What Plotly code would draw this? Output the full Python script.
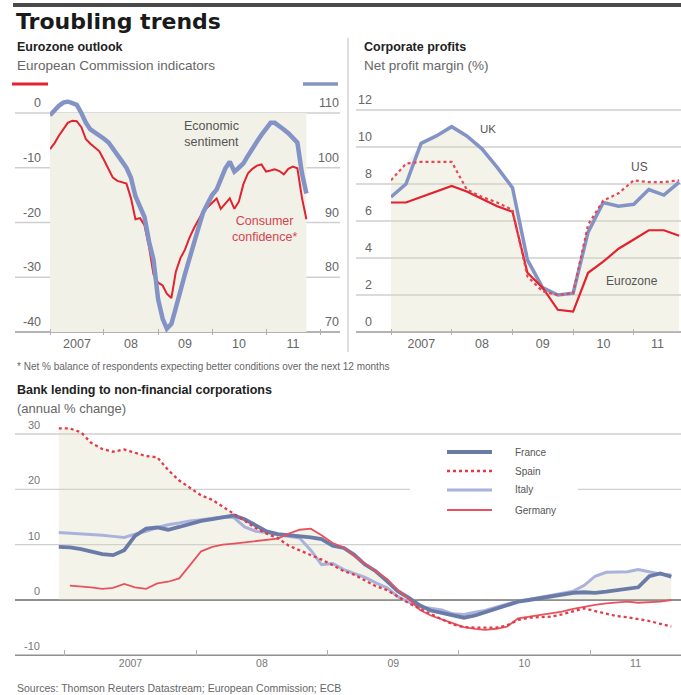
import pandas as pd
import plotly.graph_objects as go

W, H = 681, 695

# ---------------- DATA ----------------
sent_dates = pd.date_range("2007-01-01", periods=58, freq="MS")
economic_sentiment = [
    109.6, 110.5, 111.3, 111.9, 112.1, 111.8, 111.5, 110.0, 108.2, 107.0, 106.5, 105.8,
    105.3, 104.6, 103.6, 102.4, 101.2, 100.0, 98.2, 94.8, 92.9, 91.0, 86.5, 83.2,
    76.0, 72.4, 70.6, 71.5, 74.4, 77.8, 80.5, 83.4, 86.0, 89.0, 91.8, 93.6,
    95.0, 96.0, 97.9, 99.9, 101.1, 99.3, 100.0, 100.8, 102.2, 103.6, 104.8, 106.0,
    107.0, 108.2, 108.2, 107.7, 107.0, 106.3, 105.5, 104.6, 99.0, 95.3]
consumer_confidence = [
    -6.6, -5.5, -4.2, -3.0, -1.8, -1.4, -1.5, -2.6, -4.8, -5.6, -6.3, -7.0,
    -8.6, -10.3, -11.8, -12.4, -12.6, -12.9, -15.5, -19.4, -19.2, -20.5, -24.5, -29.5,
    -31.0, -31.5, -33.0, -33.8, -29.0, -26.5, -25.0, -22.8, -21.0, -19.5, -18.0, -17.2,
    -16.3, -15.6, -17.5, -16.5, -15.6, -17.5, -16.2, -13.0, -11.0, -10.2, -9.6, -9.4,
    -10.7, -10.5, -10.3, -10.6, -11.2, -10.2, -9.8, -10.1, -15.5, -19.4]

profit_dates = pd.date_range("2007-01-01", periods=20, freq="QS")
uk_margin = [7.3, 8.0, 10.2, 10.6, 11.1, 10.6, 9.9, 8.9, 7.8, 3.9,
             2.4, 2.0, 2.1, 5.4, 7.0, 6.8, 6.9, 7.7, 7.4, 8.1]
us_margin = [8.2, 9.1, 9.2, 9.2, 9.2, 7.7, 7.3, 7.0, 6.6, 3.0,
             2.2, 2.0, 2.1, 5.8, 7.1, 7.5, 8.2, 8.1, 8.1, 8.2]
ez_margin = [7.0, 7.0, 7.3, 7.6, 7.9, 7.6, 7.2, 6.8, 6.5, 3.2,
             2.4, 1.2, 1.1, 3.2, 3.8, 4.5, 5.0, 5.5, 5.5, 5.2]

lend_dates = pd.date_range("2006-12-01", periods=57, freq="MS") + pd.Timedelta(days=14)
france = [9.6, 9.5, 9.2, 8.7, 8.3, 8.1, 9.0, 11.6, 12.9, 13.1, 12.7, 13.2, 13.8,
          14.3, 14.6, 15.0, 15.3, 14.6, 13.4, 12.4, 11.9, 11.7, 11.6, 11.3, 11.0,
          9.8, 9.4, 8.2, 6.4, 5.2, 3.4, 1.6, 0.4, -1.0, -1.9, -2.3, -2.7,
          -3.2, -2.8, -2.2, -1.5, -0.8, -0.3, 0.0, 0.3, 0.7, 1.0, 1.3, 1.4,
          1.3, 1.5, 1.8, 2.0, 2.3, 4.3, 4.8, 4.2]
spain = [31.0, 31.0, 30.3, 28.4, 27.3, 26.8, 27.2, 26.6, 26.0, 25.8, 23.5, 21.6, 20.3,
         18.9, 18.1, 16.9, 15.5, 14.4, 13.0, 12.0, 11.2, 9.8, 9.0, 8.2, 7.3,
         6.3, 5.2, 4.6, 3.6, 2.5, 1.8, 0.6, -0.6, -1.6, -2.6, -3.5, -4.4,
         -4.9, -5.0, -5.0, -5.0, -4.6, -3.6, -3.2, -3.1, -3.0, -2.6, -2.1, -1.5,
         -2.0, -2.5, -2.9, -3.1, -3.4, -3.8, -4.3, -4.8]
italy = [12.2, 12.1, 12.0, 11.9, 11.7, 11.5, 11.3, 11.9, 12.4, 13.1, 13.6, 13.9, 14.3,
         14.5, 14.8, 15.0, 14.9, 13.2, 12.4, 12.2, 11.8, 11.5, 11.2, 9.0, 6.4,
         6.6, 5.5, 4.8, 4.1, 3.1, 2.2, 0.6, -0.4, -1.2, -1.5, -1.8, -2.5,
         -2.6, -2.2, -1.9, -1.3, -0.8, -0.2, 0.1, 0.5, 0.9, 1.2, 1.6, 2.6,
         4.3, 5.0, 5.0, 5.1, 5.5, 5.1, 4.7, 4.5]
germany = [None, 2.6, 2.5, 2.3, 2.0, 2.2, 2.9, 2.3, 2.0, 3.0, 3.3, 3.9, 6.3,
           8.8, 9.6, 10.0, 10.2, 10.4, 10.7, 10.9, 11.1, 12.0, 12.7, 12.9, 11.7,
           10.3, 9.5, 8.0, 6.6, 5.2, 3.8, 1.8, 0.2, -1.8, -2.8, -3.5, -4.2,
           -4.9, -5.2, -5.4, -5.2, -4.8, -3.3, -3.0, -2.8, -2.5, -2.1, -1.6, -1.2,
           -0.9, -0.6, -0.4, -0.3, -0.5, -0.4, -0.3, 0.0]

cc_ticks = [0, -10, -20, -30, -40]
esi_ticks = [110, 100, 90, 80, 70]
profit_ticks = [12, 10, 8, 6, 4, 2, 0]
lend_ticks = [30, 20, 10, 0, -10]
years = [2007, 2008, 2009, 2010, 2011]
year_labels = ["2007", "08", "09", "10", "11"]

lend_names = ["France", "Spain", "Italy", "Germany"]
lend_series = {"France": france, "Spain": spain, "Italy": italy, "Germany": germany}
lend_style = {
    "France": dict(color="#6a7ba8", width=3.8, dash="solid"),
    "Spain": dict(color="#e23a48", width=2.3, dash="dot"),
    "Italy": dict(color="#aab2dc", width=3, dash="solid"),
    "Germany": dict(color="#e8525e", width=1.8, dash="solid"),
}

RED = "#e2222e"
BLUE = "#8393c6"
SHADE = "#f1f1e8"
SHADE_FILL = "rgba(214,214,182,0.3)"
GRID = "#cfcfcf"
AXIS = "#9a9a9a"
FONT = "Liberation Sans"


# ---------------- helpers ----------------
def px(x):
    return x / W


def py(y):
    return 1 - y / H


def y_domain(v1, p1, v2, p2, lo, hi):
    s = (p2 - p1) / (v1 - v2)
    top_px = p1 - (hi - v1) * s
    bot_px = p1 + (v1 - lo) * s
    return [1 - bot_px / H, 1 - top_px / H]


def year_ticks(r0, r1):
    r0, r1 = pd.Timestamp(r0), pd.Timestamp(r1)
    vals = []
    for y in years:
        a = max(pd.Timestamp(f"{y}-01-01"), r0)
        b = min(pd.Timestamp(f"{y + 1}-01-01"), r1)
        vals.append(a + (b - a) / 2)
    return vals


L_RANGE = ["2007-01-01", "2012-01-01"]
R_RANGE = ["2007-01-01", "2011-10-12"]
B_RANGE = ["2006-12-10", "2011-09-11"]
L_Y = [-40.5, 2.5]
R_Y = [-0.15, 12.4]
B_Y = [-10.1, 31.8]

fig = go.Figure()

# ---- shaded areas ----
profit_env = [max(0, a, b, c) for a, b, c in zip(uk_margin, us_margin, ez_margin)]
fig.add_trace(go.Scatter(x=profit_dates, y=profit_env, mode="lines", line=dict(width=0),
                         fill="tozeroy", fillcolor=SHADE_FILL,
                         xaxis="x2", yaxis="y3", showlegend=False, hoverinfo="skip"))
lend_env = [max([0] + [v for v in vals if v is not None])
            for vals in zip(*[lend_series[n] for n in lend_names])]
fig.add_trace(go.Scatter(x=lend_dates, y=lend_env, mode="lines", line=dict(width=0),
                         fill="tozeroy", fillcolor=SHADE_FILL,
                         xaxis="x3", yaxis="y4", showlegend=False, hoverinfo="skip"))

# ---- left chart ----
fig.add_trace(go.Scatter(x=sent_dates, y=economic_sentiment, mode="lines",
                         line=dict(color=BLUE, width=4.5), xaxis="x", yaxis="y2",
                         name="Economic sentiment", showlegend=False))
fig.add_trace(go.Scatter(x=sent_dates, y=consumer_confidence, mode="lines",
                         line=dict(color=RED, width=2), xaxis="x", yaxis="y",
                         name="Consumer confidence", showlegend=False))

# ---- right chart ----
fig.add_trace(go.Scatter(x=profit_dates, y=uk_margin, mode="lines",
                         line=dict(color=BLUE, width=3.5), xaxis="x2", yaxis="y3",
                         name="UK", showlegend=False))
fig.add_trace(go.Scatter(x=profit_dates, y=ez_margin, mode="lines",
                         line=dict(color=RED, width=2.2), xaxis="x2", yaxis="y3",
                         name="Eurozone", showlegend=False))
fig.add_trace(go.Scatter(x=profit_dates, y=us_margin, mode="lines",
                         line=dict(color="#e84452", width=2.2, dash="dot"), xaxis="x2", yaxis="y3",
                         name="US", showlegend=False))

# ---- bottom chart ----
for n in ["Italy", "France", "Germany", "Spain"]:
    st = lend_style[n]
    fig.add_trace(go.Scatter(x=lend_dates, y=lend_series[n], mode="lines",
                             line=dict(color=st["color"], width=st["width"], dash=st["dash"]),
                             xaxis="x3", yaxis="y4", name=n, showlegend=False,
                             connectgaps=False))

# ---------------- shapes ----------------
shapes = []
shapes.append(dict(type="rect", xref="x", yref="y", x0=sent_dates[0], x1=sent_dates[-1],
                   y0=cc_ticks[-1], y1=cc_ticks[0], fillcolor=SHADE, line=dict(width=0),
                   layer="below"))
for v in cc_ticks:
    shapes.append(dict(type="line", xref="paper", yref="y", x0=px(15), x1=px(340), y0=v, y1=v,
                       line=dict(color=AXIS if v == cc_ticks[-1] else GRID,
                                 width=1.5 if v == cc_ticks[-1] else 1.3), layer="below"))
for v in profit_ticks:
    shapes.append(dict(type="line", xref="paper", yref="y3", x0=px(356), x1=1, y0=v, y1=v,
                       line=dict(color=AXIS if v == 0 else GRID,
                                 width=1.5 if v == 0 else 1.3), layer="below"))
for v in lend_ticks:
    dark = v in (0, lend_ticks[-1])
    shapes.append(dict(type="line", xref="paper", yref="y4", x0=px(15), x1=1, y0=v, y1=v,
                       line=dict(color="#8f8f8f" if dark else GRID, width=1.8 if dark else 1.3),
                       layer="below"))
# white legend box interrupting grid
shapes.append(dict(type="rect", xref="paper", yref="paper", x0=px(410), x1=px(578),
                   y0=py(522), y1=py(442), fillcolor="white", line=dict(width=0), layer="below"))
# top rule
shapes.append(dict(type="line", xref="paper", yref="paper", x0=px(13), x1=1, y0=py(5), y1=py(5),
                   line=dict(color="#4a4a4a", width=4)))
# separator
shapes.append(dict(type="line", xref="paper", yref="paper", x0=px(348), x1=px(348),
                   y0=py(38), y1=py(352), line=dict(color="#bdbdbd", width=1)))
# key lines for left chart
shapes.append(dict(type="line", xref="paper", yref="paper", x0=px(12), x1=px(48),
                   y0=py(84), y1=py(84), line=dict(color=RED, width=3)))
shapes.append(dict(type="line", xref="paper", yref="paper", x0=px(303), x1=px(338),
                   y0=py(84), y1=py(84), line=dict(color=BLUE, width=3.5)))
# bottom legend
leg_rows = [452, 471, 490, 510]
annotations = []
for n, ry in zip(lend_names, leg_rows):
    st = lend_style[n]
    shapes.append(dict(type="line", xref="paper", yref="paper", x0=px(447), x1=px(492),
                       y0=py(ry), y1=py(ry),
                       line=dict(color=st["color"], width=st["width"], dash=st["dash"])))
    annotations.append(dict(x=px(513), y=py(ry), xref="paper", yref="paper", text=n,
                            showarrow=False, xanchor="left", yanchor="middle",
                            font=dict(size=10, color="#555")))


# ---------------- text ----------------
def txt(x, y, s, size, color="#555", bold=False, anchor="left", family=FONT):
    annotations.append(dict(x=px(x), y=py(y), xref="paper", yref="paper",
                            text=f"<b>{s}</b>" if bold else s, showarrow=False,
                            xanchor=anchor, yanchor="middle", align="center",
                            font=dict(size=size, color=color, family=family)))


txt(14, 22, "Troubling trends", 22, "#1a1a1a", True, family="DejaVu Sans")
txt(15, 47, "Eurozone outlook", 12.5, "#222", True)
txt(15, 66, "European Commission indicators", 13.5, "#666")
txt(362, 47, "Corporate profits", 12.5, "#222", True)
txt(362, 66, "Net profit margin (%)", 13.5, "#666")
txt(15, 366, "* Net % balance of respondents expecting better conditions over the next 12 months", 10, "#666")
txt(15, 390, "Bank lending to non-financial corporations", 12.5, "#222", True)
txt(15, 408, "(annual % change)", 13, "#666")
txt(15, 688, "Sources: Thomson Reuters Datastream; European Commission; ECB", 10.5, "#666")

txt(212, 134, "Economic<br>sentiment", 12.5, "#555", anchor="center")
txt(264, 229, "Consumer<br>confidence*", 12.5, "#d8434f", anchor="center")
txt(488, 129, "UK", 11.5, "#555", anchor="center")
txt(639, 167, "US", 12, "#555", anchor="center")
txt(632, 281, "Eurozone", 12, "#555", anchor="center")

for v in cc_ticks:
    annotations.append(dict(x=px(43), y=v, xref="paper", yref="y", text=str(v), showarrow=False,
                            xanchor="right", yanchor="bottom", yshift=1,
                            font=dict(size=12.5, color="#666")))
for v in esi_ticks:
    annotations.append(dict(x=px(341), y=v, xref="paper", yref="y2", text=str(v), showarrow=False,
                            xanchor="right", yanchor="bottom", yshift=1,
                            font=dict(size=12.5, color="#666")))
for v in profit_ticks:
    annotations.append(dict(x=px(374), y=v, xref="paper", yref="y3", text=str(v), showarrow=False,
                            xanchor="right", yanchor="bottom", yshift=1,
                            font=dict(size=12.5, color="#666")))
for v in lend_ticks:
    annotations.append(dict(x=px(42), y=v, xref="paper", yref="y4", text=str(v), showarrow=False,
                            xanchor="right", yanchor="bottom", yshift=1,
                            font=dict(size=11, color="#777")))


def xaxis(domain, rng, anchor, size, color):
    return dict(domain=domain, range=rng, type="date", anchor=anchor,
                tickmode="array", tickvals=year_ticks(*rng), ticktext=year_labels,
                ticks="", showgrid=False, zeroline=False, showline=False,
                tickfont=dict(size=size, color=color),
                minor=dict(tickmode="array",
                           tickvals=[pd.Timestamp(f"{y}-01-01") for y in years + [2012]],
                           ticks="inside", ticklen=6, tickcolor="#b0b0b0", tickwidth=1,
                           showgrid=False),
                fixedrange=True)


def yaxis(domain, rng, anchor, **kw):
    d = dict(domain=domain, range=rng, anchor=anchor, showgrid=False, zeroline=False,
             showline=False, showticklabels=False, ticks="", fixedrange=True)
    d.update(kw)
    return d


ldom = y_domain(0, 113, -40, 332, *L_Y)
fig.update_layout(
    width=W, height=H, margin=dict(l=0, r=0, t=0, b=0),
    paper_bgcolor="white", plot_bgcolor="rgba(0,0,0,0)",
    font=dict(family=FONT, color="#555"),
    showlegend=False,
    xaxis=xaxis([px(50), px(320)], L_RANGE, "y", 12.5, "#666"),
    xaxis2=xaxis([px(391), 1], R_RANGE, "y3", 12.5, "#666"),
    xaxis3=xaxis([px(57), 1], B_RANGE, "y4", 10.5, "#777"),
    yaxis=yaxis(ldom, L_Y, "x"),
    yaxis2=yaxis(ldom, [L_Y[0] + 110, L_Y[1] + 110], "x", overlaying="y", side="right"),
    yaxis3=yaxis(y_domain(12, 110, 0, 332, *R_Y), R_Y, "x2"),
    yaxis4=yaxis(y_domain(30, 434, 0, 600, *B_Y), B_Y, "x3"),
    shapes=shapes,
    annotations=annotations,
)

fig.write_html("out.html", config={"displayModeBar": False},
               post_script="document.body.style.margin='0px';")
